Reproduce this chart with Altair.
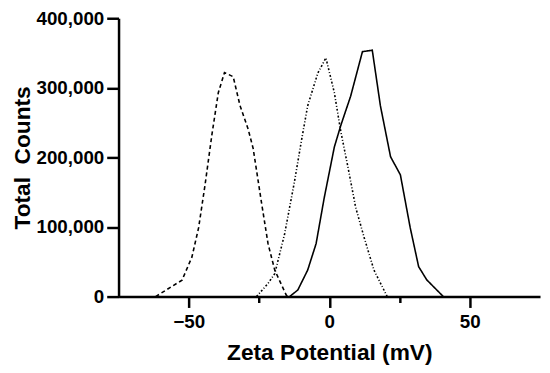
import altair as alt
import pandas as pd

# Series A (dashed, peak near -37 mV)
a_x = [-61.8, -52.4, -48.9, -46.5, -44.2, -41.8, -39.5, -37.3, -34.2, -31.8, -28.9, -27.1, -24.2, -21.8, -19.4, -15.3, -14.7]
a_y = [0, 23700, 56700, 99000, 161000, 232000, 293000, 322000, 316000, 275000, 241000, 213000, 137000, 76000, 38000, 2000, 0]

# Series B (dash-dot, peak near -1 mV)
b_x = [-25.9, -21.8, -19.4, -15.9, -12.4, -10.0, -7.7, -4.1, -1.2, 1.8, 4.1, 6.5, 9.4, 12.4, 15.9, 20.0, 20.6]
b_y = [0, 19000, 33000, 90000, 165000, 222000, 274000, 321000, 343000, 293000, 237000, 189000, 128000, 85000, 38000, 5000, 0]

# Series C (solid, peak near 14 mV)
c_x = [-14.1, -11.2, -7.7, -4.7, -1.8, 1.8, 4.1, 7.6, 11.8, 15.3, 18.2, 21.8, 25.3, 28.8, 31.8, 34.7, 40.6]
c_y = [0, 9500, 38000, 76000, 142000, 215000, 246000, 288000, 352000, 354000, 274000, 201000, 175000, 99000, 43000, 24000, 0]

x_ticks = [-50, -25, 0, 25, 50]
y_ticks = [0, 100000, 200000, 300000, 400000]

rows = []
for name, xs, ys in (("A", a_x, a_y), ("B", b_x, b_y), ("C", c_x, c_y)):
    for i, (xv, yv) in enumerate(zip(xs, ys)):
        rows.append({"series": name, "order": i, "zeta": xv, "counts": yv})
df = pd.DataFrame(rows)

font = "Liberation Sans"

chart = alt.Chart(df).mark_line(color="black", strokeWidth=1.6).encode(
    x=alt.X("zeta:Q",
            scale=alt.Scale(domain=[-75, 75], nice=False),
            axis=alt.Axis(values=x_ticks, title="Zeta Potential (mV)",
                          labelExpr="datum.value % 50 === 0 ? datum.label : ''",
                          tickSize={"condition": {"test": "datum.value % 50 !== 0", "value": 6}, "value": 11},
                          grid=False, labelPadding=5, titlePadding=11)),
    y=alt.Y("counts:Q",
            scale=alt.Scale(domain=[0, 400000], nice=False),
            axis=alt.Axis(values=y_ticks, format=",d", title="Total\u00a0 Counts",
                          tickSize=12, grid=False, labelPadding=3, titlePadding=2)),
    detail="series:N",
    order="order:Q",
    strokeDash=alt.StrokeDash("series:N",
                              scale=alt.Scale(domain=["A", "B", "C"],
                                              range=[[4, 3], [2, 2, 1, 2], [1, 0]]),
                              legend=None),
    strokeWidth=alt.StrokeWidth("series:N",
                                scale=alt.Scale(domain=["A", "B", "C"], range=[1.8, 1.2, 1.5]),
                                legend=None),
).properties(
    width=427, height=282,
    autosize=alt.AutoSizeParams(type="none"),
    padding={"left": 112, "top": 8, "right": 2, "bottom": 73},
).configure_view(stroke=None).configure_axis(
    domainColor="black", domainWidth=2.5, tickColor="black", tickWidth=2.5,
    labelFont=font, labelFontSize=19, labelFontWeight="bold", labelColor="black",
    titleFont=font, titleFontSize=23, titleFontWeight="bold", titleColor="black",
)

chart.save("out.html", embed_options={"renderer": "svg", "actions": False})
